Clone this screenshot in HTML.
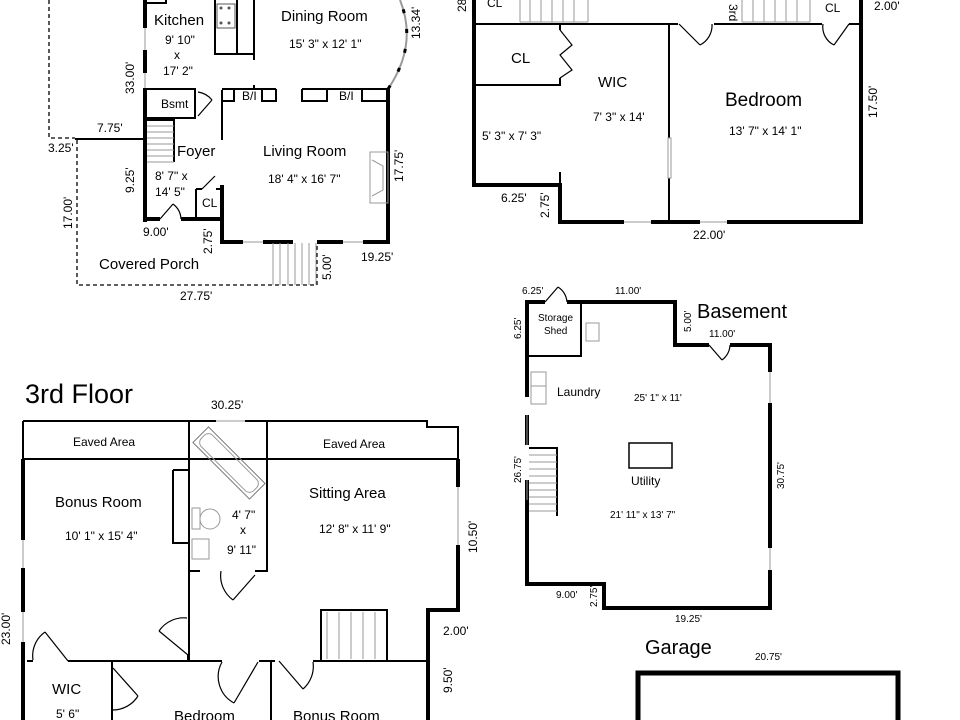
<!DOCTYPE html>
<html><head><meta charset="utf-8"><style>
html,body{margin:0;padding:0;background:#fff;}
svg{display:block;}
text{font-family:"Liberation Sans",sans-serif;fill:#000;}
.r{font-size:15px}.d{font-size:12px}.s{font-size:10px}
.w{stroke:#000;stroke-width:4;fill:none}
.t{stroke:#000;stroke-width:2;fill:none}
.f{stroke:#000;stroke-width:1.2;fill:none}
.g{stroke:#999;stroke-width:1;fill:none}
.dash{stroke:#000;stroke-width:1.3;fill:none;stroke-dasharray:4,3}
</style></head><body>
<svg width="960" height="720" viewBox="0 0 960 720" xmlns="http://www.w3.org/2000/svg">
<!-- ========== FIRST FLOOR ========== -->
<path class="dash" d="M49 0V138H75 M77 140V285H317V246"/>
<path class="t" d="M75 139H145"/>
<path class="w" d="M145 0V28 M145 50V73 M145 88V222 M145 219H160 M181 219H222 M222 185V242H243 M263 242H293 M317 242H343 M363 242H388V89"/>
<path class="g" d="M145 28V50 M145 73V88 M243 242H263 M343 242H363"/>
<path class="t" d="M145 89H195V118H145 M222 90V140 M196 189V219 M196 189H202 M216 189H222 M145 3H166V0"/>
<path class="f" d="M198 116L212 100 M212 100A22 22 0 0 0 198 92 M202 189L215 176 M160 219L173 204 M173 204A20 20 0 0 1 181 219"/>
<!-- stairs -->
<path class="t" d="M147 120H174V162"/>
<path class="g" d="M147 126H174M147 132H174M147 138H174M147 144H174M147 150H174M147 156H174M147 162H174"/>
<!-- kitchen counter -->
<path class="t" d="M215 0V54H254V0 M237 0V54 M254 54V60"/>
<rect x="217" y="4" width="18" height="24" fill="none" stroke="#555"/>
<circle cx="221" cy="8" r="1.5" fill="#555"/><circle cx="229" cy="8" r="1.5" fill="#555"/><circle cx="221" cy="23" r="1.5" fill="#555"/><circle cx="229" cy="23" r="1.5" fill="#555"/>
<!-- B/I -->
<path class="t" d="M222 89H276 M302 89H388 M222 101H234V89 M262 89V101H276V89 M302 89V101H327V89 M362 89V101H388 M254 85V89"/>
<!-- fireplace -->
<path class="g" d="M370 152H388V203H370Z M372 160L383 166V190L372 196"/>
<!-- bay arc -->
<path d="M388 89Q418 45 400 0" stroke="#999" stroke-width="2" fill="none"/>
<path d="M388 89Q418 45 400 0" stroke="#000" stroke-width="3" fill="none" stroke-dasharray="4,16"/>
<!-- porch stairs -->
<path class="g" d="M273 243V285M280 243V285M288 243V285M295 243V285M302 243V285M309 243V285M316 243V285"/>
<text class="r" x="154" y="25">Kitchen</text>
<text class="d" x="165" y="44">9' 10"</text>
<text class="d" x="174" y="59">x</text>
<text class="d" x="163" y="75">17' 2"</text>
<text class="r" x="281" y="21">Dining Room</text>
<text class="d" x="289" y="48">15' 3" x 12' 1"</text>
<text class="r" x="263" y="156">Living Room</text>
<text class="d" x="268" y="183">18' 4" x 16' 7"</text>
<text class="r" x="177" y="156">Foyer</text>
<text class="d" x="155" y="180">8' 7" x</text>
<text class="d" x="155" y="196">14' 5"</text>
<text class="d" x="161" y="108">Bsmt</text>
<text class="d" x="202" y="207">CL</text>
<text class="d" x="242" y="100">B/I</text>
<text class="d" x="339" y="100">B/I</text>
<text class="r" x="99" y="269">Covered Porch</text>
<text class="d" x="97" y="132">7.75'</text>
<text class="d" x="48" y="152">3.25'</text>
<text class="d" x="143" y="236">9.00'</text>
<text class="d" x="180" y="300">27.75'</text>
<text class="d" x="361" y="261">19.25'</text>
<g class="d">
<text transform="translate(134,94) rotate(-90)">33.00'</text>
<text transform="translate(134,193) rotate(-90)">9.25'</text>
<text transform="translate(72,229) rotate(-90)">17.00'</text>
<text transform="translate(212,254) rotate(-90)">2.75'</text>
<text transform="translate(331,280) rotate(-90)">5.00'</text>
<text transform="translate(403,182) rotate(-90)">17.75'</text>
<text transform="translate(420,39) rotate(-90)">13.34'</text>
</g>
<!-- ========== SECOND FLOOR ========== -->
<path class="w" d="M474 0V185H560V222H624 M651 222H700 M727 222H861V0"/>
<path class="g" d="M624 222H651 M700 222H727"/>
<path class="t" d="M474 24H678 M714 24H822 M849 24H861 M474 85H560V78 M560 24V30 M669 24V222 M560 172V185"/>
<path class="f" d="M560 30L572 45L560 55L572 70L560 78 M679 24L700 45 M700 45A22 22 0 0 0 712 24 M849 24L834 45 M834 45A20 20 0 0 1 823 24"/>
<rect x="668" y="138" width="3" height="40" fill="#fff" stroke="#999"/>
<path class="g" d="M520 22V0 M530 22V0M541 22V0M552 22V0M563 22V0M574 22V0M588 22V0 M742 22V0M753 22V0M764 22V0M775 22V0M786 22V0M797 22V0M810 22V0 M520 22H588 M742 22H810"/>
<text class="d" x="487" y="7">CL</text>
<text class="d" x="825" y="12">CL</text>
<text class="r" x="511" y="63">CL</text>
<text class="r" x="598" y="87">WIC</text>
<text class="d" x="593" y="121">7' 3" x 14'</text>
<text class="d" x="482" y="140">5' 3" x 7' 3"</text>
<text x="725" y="106" style="font-size:19px">Bedroom</text>
<text class="d" x="729" y="135">13' 7" x 14' 1"</text>
<text class="d" x="501" y="202">6.25'</text>
<text class="d" x="693" y="239">22.00'</text>
<text class="d" x="874" y="10">2.00'</text>
<g class="d">
<text transform="translate(549,218) rotate(-90)">2.75'</text>
<text transform="translate(877,118) rotate(-90)">17.50'</text>
<text transform="translate(729,4) rotate(90)">3rd</text>
<text transform="translate(466,12) rotate(-90)">28</text>
</g>
<!-- ========== BASEMENT ========== -->
<path class="w" d="M545 302H527V356 M567 302H675V345H709 M730 345H770V372 M770 403V548 M770 570V608H604V584H527V480 M527 445V415 M527 397V356"/>
<path class="g" d="M770 372V403 M770 548V570 M527 415V445 M527 480V500"/>
<path class="t" d="M527 356H581V302"/>
<path class="f" d="M545 302L558 287 M558 287A20 20 0 0 1 567 302 M709 345L722 360 M722 360A20 20 0 0 0 730 345"/>
<rect x="586" y="323" width="13" height="18" fill="none" stroke="#999"/>
<rect x="531" y="372" width="15" height="14" fill="none" stroke="#999"/><rect x="531" y="386" width="15" height="18" fill="none" stroke="#999"/>
<rect x="629" y="443" width="43" height="25" fill="none" stroke="#000" stroke-width="1.5"/>
<path class="t" d="M529 448H557V516"/>
<path class="g" d="M529 455H557M529 462H557M529 469H557M529 476H557M529 483H557M529 490H557M529 497H557M529 504H557M529 511H557"/>
<g class="s">
<text x="522" y="294">6.25'</text>
<text x="615" y="294">11.00'</text>
<text x="709" y="337">11.00'</text>
<text x="538" y="321">Storage</text>
<text x="544" y="334">Shed</text>
<text x="634" y="401">25' 1" x 11'</text>
<text x="610" y="518">21' 11" x 13' 7"</text>
<text x="556" y="598">9.00'</text>
<text x="675" y="622">19.25'</text>
<text x="755" y="660">20.75'</text>
<text transform="translate(521,339) rotate(-90)">6.25'</text>
<text transform="translate(691,332) rotate(-90)">5.00'</text>
<text transform="translate(521,483) rotate(-90)">26.75'</text>
<text transform="translate(784,489) rotate(-90)">30.75'</text>
<text transform="translate(597,607) rotate(-90)">2.75'</text>
</g>
<text x="557" y="396" style="font-size:12px">Laundry</text>
<text x="631" y="485" style="font-size:12px">Utility</text>
<text x="697" y="318" style="font-size:20px">Basement</text>
<text x="645" y="654" style="font-size:20px">Garage</text>
<!-- garage -->
<path d="M638 720V673H898V720" stroke="#000" stroke-width="5" fill="none"/>
<!-- ========== THIRD FLOOR ========== -->
<text x="25" y="403" style="font-size:27px">3rd Floor</text>
<text class="d" x="211" y="409">30.25'</text>
<path class="t" d="M23 421H216 M245 421H427V427H458V459 M23 459H458 M23 421V459 M189 421V571H200 M255 571H267V421 M189 571V661 M173 470H189 M173 470V543H189"/>
<path class="g" d="M216 421H245"/>
<path class="w" d="M23 459V540 M23 568V612 M23 642V720 M458 459V487 M458 545V610H428V720"/>
<path class="g" d="M23 540V568 M23 612V642 M458 487V545"/>
<path class="t" d="M27 661H33 M68 661H188 M188 655V661H222 M259 661H275 M313 661H428 M112 661V720 M271 661V720 M321 661V610H387V661"/>
<path class="g" d="M327 612V659M339 612V659M351 612V659M363 612V659M375 612V659"/>
<!-- doors 3rd -->
<path class="f" d="M45 632L68 661 M33 660A29 29 0 0 1 45 632 M159 631L188 655 M159 631A30 30 0 0 1 187 618 M233 600L255 575 M233 600A30 30 0 0 1 221 571 M113 668L138 696 M138 696A30 30 0 0 1 113 710 M234 703L258 662 M234 703A30 30 0 0 1 222 662 M279 661L303 689 M303 689A30 30 0 0 0 313 662"/>
<!-- tub -->
<g transform="translate(229,463) rotate(45)"><rect x="-40" y="-11" width="80" height="22" fill="none" stroke="#777"/><rect x="-37" y="-8" width="74" height="16" rx="6" fill="none" stroke="#999"/></g>
<ellipse cx="210" cy="519" rx="10" ry="10" fill="none" stroke="#999"/><rect x="192" y="508" width="8" height="21" fill="none" stroke="#999"/>
<rect x="192" y="539" width="17" height="20" fill="none" stroke="#999"/>
<text class="d" x="73" y="446">Eaved Area</text>
<text class="d" x="323" y="448">Eaved Area</text>
<text class="r" x="55" y="507">Bonus  Room</text>
<text class="d" x="65" y="540">10' 1" x 15' 4"</text>
<text class="d" x="232" y="519">4' 7"</text>
<text class="d" x="240" y="534">x</text>
<text class="d" x="227" y="554">9' 11"</text>
<text class="r" x="309" y="498">Sitting  Area</text>
<text class="d" x="319" y="533">12' 8" x 11' 9"</text>
<text class="d" x="443" y="635">2.00'</text>
<text class="r" x="52" y="694">WIC</text>
<text class="d" x="56" y="718">5' 6"</text>
<text class="r" x="174" y="721">Bedroom</text>
<text class="r" x="293" y="721">Bonus  Room</text>
<g class="d">
<text transform="translate(477,553) rotate(-90)">10.50'</text>
<text transform="translate(10,645) rotate(-90)">23.00'</text>
<text transform="translate(452,693) rotate(-90)">9.50'</text>
</g>
</svg>
</body></html>
